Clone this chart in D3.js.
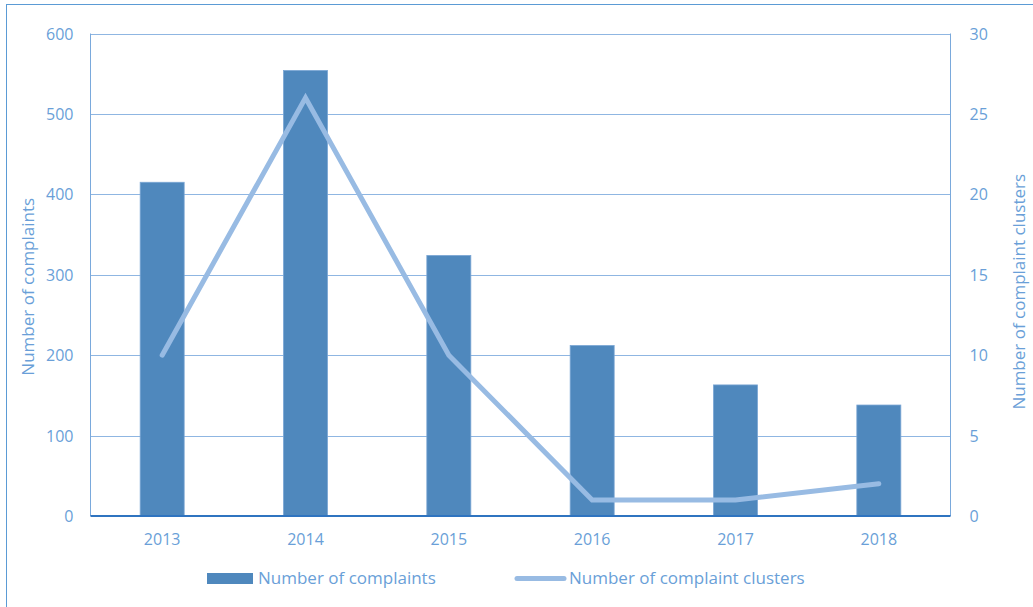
<!DOCTYPE html>
<html>
<head>
<meta charset="utf-8">
<script src="https://cdn.jsdelivr.net/npm/d3@7"></script>
<style>
  html, body { margin: 0; padding: 0; background: #fff; }
  svg { display: block; }
  text { font-family: "Open Sans", "Noto Sans", sans-serif; fill: #6a9fd8; }
</style>
</head>
<body>
<svg id="chart" width="1033" height="607"></svg>
<script>
// Complaints per year (bars, left axis) and complaint clusters (line, right axis)
const years = ["2013", "2014", "2015", "2016", "2017", "2018"];
const complaints = [415, 554, 324, 212, 163, 138];
const clusters = [10, 26, 10, 1, 1, 2];
const leftTicks = [0, 100, 200, 300, 400, 500, 600];
const rightTicks = [0, 5, 10, 15, 20, 25, 30];

const svg = d3.select("#chart");
const plot = { left: 90.5, right: 950.5, top: 33.5, bottom: 516 };

const x = d3.scaleBand().domain(years).range([plot.left, plot.right]).paddingInner(0).paddingOuter(0);
const yL = d3.scaleLinear().domain([0, 600]).range([plot.bottom, plot.top]);
const yR = d3.scaleLinear().domain([0, 30]).range([plot.bottom, plot.top]);

// outer frame
svg.append("rect")
  .attr("x", 6.5).attr("y", 4.5).attr("width", 1040).attr("height", 620)
  .attr("fill", "none").attr("stroke", "#5b9bd5").attr("stroke-width", 1);

// horizontal gridlines
svg.append("g")
  .selectAll("line")
  .data(leftTicks.slice(1))
  .join("line")
  .attr("x1", plot.left).attr("x2", plot.right)
  .attr("y1", d => Math.round(yL(d)) + 0.5).attr("y2", d => Math.round(yL(d)) + 0.5)
  .attr("stroke", "#8fb6e2").attr("stroke-width", 1);

// plot side borders
[plot.left, plot.right].forEach(px => {
  svg.append("line")
    .attr("x1", px).attr("x2", px).attr("y1", plot.top).attr("y2", plot.bottom)
    .attr("stroke", "#7aa9dc").attr("stroke-width", 1);
});

// bars
const barW = x.bandwidth() * 0.307;
svg.append("g")
  .selectAll("rect")
  .data(years.map((y, i) => ({ year: y, v: complaints[i] })))
  .join("rect")
  .attr("x", d => x(d.year) + x.bandwidth() / 2 - barW / 2)
  .attr("width", barW)
  .attr("y", d => yL(d.v))
  .attr("height", d => plot.bottom - yL(d.v))
  .attr("fill", "#4f88bd")
  .attr("stroke", "#7aa6d4").attr("stroke-width", 0.8);

// cluster line
const line = d3.line()
  .x((d, i) => x(years[i]) + x.bandwidth() / 2)
  .y(d => yR(d));
svg.append("path")
  .datum(clusters)
  .attr("d", line)
  .attr("fill", "none")
  .attr("stroke", "#98bbe3")
  .attr("stroke-width", 5)
  .attr("stroke-linecap", "round")
  .attr("stroke-linejoin", "miter");

// bottom axis line
svg.append("line")
  .attr("x1", plot.left).attr("x2", plot.right)
  .attr("y1", plot.bottom).attr("y2", plot.bottom)
  .attr("stroke", "#2f74c0").attr("stroke-width", 2);

// left axis ticks
const leftAxis = d3.axisLeft(yL).tickValues(leftTicks).tickSize(0).tickPadding(17);
const gL = svg.append("g").attr("transform", `translate(${plot.left},0)`).call(leftAxis);
gL.select(".domain").remove();
gL.selectAll("text").style("font-size", "16px").attr("fill", "#6a9fd8").attr("dy", "0.35em");

// right axis ticks
const rightAxis = d3.axisRight(yR).tickValues(rightTicks).tickSize(0).tickPadding(19);
const gR = svg.append("g").attr("transform", `translate(${plot.right},0)`).call(rightAxis);
gR.select(".domain").remove();
gR.selectAll("text").style("font-size", "16px").attr("fill", "#6a9fd8").attr("dy", "0.35em");

// bottom axis ticks
const bottomAxis = d3.axisBottom(x).tickSize(0).tickPadding(18);
const gB = svg.append("g").attr("transform", `translate(0,${plot.bottom})`).call(bottomAxis);
gB.select(".domain").remove();
gB.selectAll("text").style("font-size", "16px").attr("fill", "#6a9fd8");

// axis titles
svg.append("text")
  .attr("transform", `translate(34,${(plot.top + plot.bottom) / 2 + 12}) rotate(-90)`)
  .attr("text-anchor", "middle")
  .style("font-size", "17px")
  .text("Number of complaints");
svg.append("text")
  .attr("transform", `translate(1025,${(plot.top + plot.bottom) / 2 + 17}) rotate(-90)`)
  .attr("text-anchor", "middle")
  .style("font-size", "17px")
  .text("Number of complaint clusters");

// legend
const lg = svg.append("g");
lg.append("rect").attr("x", 207).attr("y", 573).attr("width", 46).attr("height", 11).attr("fill", "#4f88bd");
lg.append("text").attr("x", 258).attr("y", 584).style("font-size", "17px").text("Number of complaints");
lg.append("line").attr("x1", 517).attr("x2", 564).attr("y1", 578.5).attr("y2", 578.5)
  .attr("stroke", "#98bbe3").attr("stroke-width", 5).attr("stroke-linecap", "round");
lg.append("text").attr("x", 569).attr("y", 584).style("font-size", "17px").text("Number of complaint clusters");
</script>
</body>
</html>
